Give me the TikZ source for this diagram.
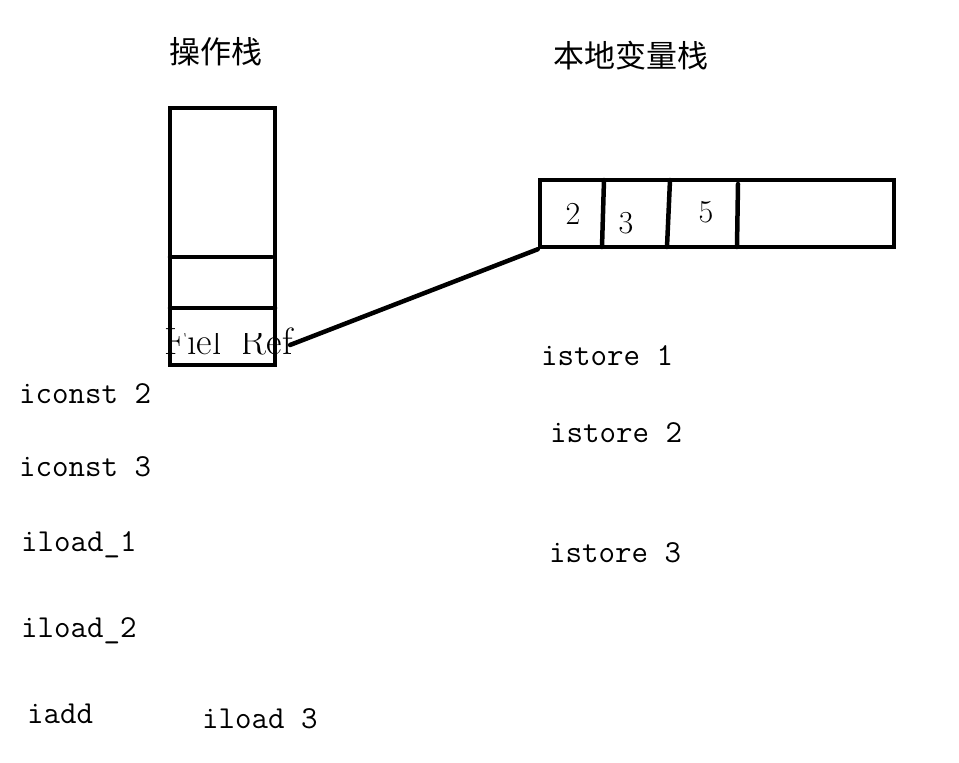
\documentclass[tikz,border=0pt]{standalone}
\usepackage{fontspec}
\newfontfamily\cjk{Noto Sans CJK SC}
\usepackage{tikz}
\usetikzlibrary{positioning}
\tikzset{
    boxline/.style={
        line width=4.5pt,
        black,
        line cap=round
    },
    % 指令文字
    opcode/.style={
        anchor=base west,
        inner sep=0pt,
        font=\ttfamily\fontsize{32}{38}\selectfont
    },
    cellnum/.style={
        inner sep=0pt,
        font=\fontsize{32}{36}\selectfont
    },
    headline/.style={
        inner sep=0pt,
        font=\cjk\fontsize{31}{36}\selectfont
    }
}

\begin{document}
\begin{tikzpicture}[x=1pt,y=-1pt]
    \useasboundingbox[fill=white] (0,0) rectangle (959,763);

    \node[headline] (opstack) at (216,52) {操作栈};
    \node[headline] (localstack) at (631,56) {本地变量栈};

    % FieldRef, partly wiped out
    \node[anchor=base west,inner sep=0pt,font=\fontsize{38}{42}\selectfont] (ref) at (164,354) {FieldRef};
    \fill[white] (175,310) rectangle (271,333);
    \fill[white] (220,310) rectangle (243,358);

    \draw[boxline] (170,108) rectangle (275,365);
    \draw[boxline] (170,257) -- (272,257);
    \draw[boxline] (170,308) -- (275,308);

    \node[boxline,draw,minimum width=354pt,minimum height=67pt,inner sep=0pt] (locals) at (717,213.5) {};
    \draw[boxline] (604,180) -- (602,247);
    \draw[boxline] (670,180) -- (667,247);
    \draw[boxline] (738,184) -- (737,247);
    \node[cellnum] (v1) at (573,214) {2};
    \node[cellnum] (v2) at (626,223) {3};
    \node[cellnum] (v3) at (706,212) {5};

    \coordinate (refend) at (290,345);
    \draw[boxline] (refend) -- (locals.south west);

    \node[opcode] (c1) at (19,403) {iconst 2};
    \node[opcode] (c2) at (19,476) {iconst 3};
    \node[opcode] (l1) at (21,551) {iload\_1};
    \node[opcode] (l2) at (21,637) {iload\_2};
    \node[opcode] (add) at (27,723) {iadd};
    \node[opcode] (l3) at (202,728) {iload 3};

    \node[opcode] (s1) at (541,365) {istore 1};
    \node[opcode] (s2) at (550,442) {istore 2};
    \node[opcode] (s3) at (549,562) {istore 3};
\end{tikzpicture}
\end{document}
